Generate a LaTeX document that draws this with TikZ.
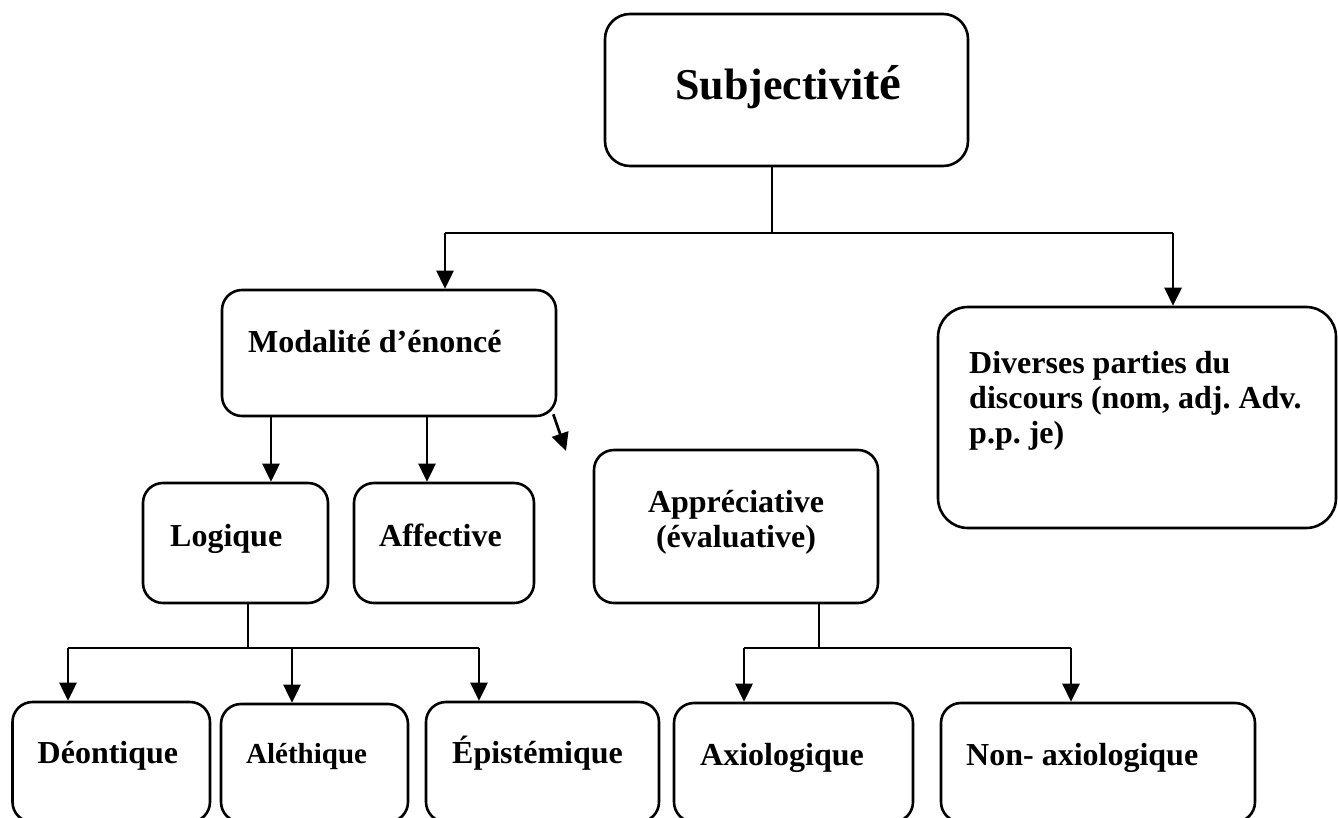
\documentclass[tikz,border=0pt]{standalone}
\usepackage{fontspec}
\setmainfont{Liberation Serif}
\usetikzlibrary{arrows.meta}
\frenchspacing
\begin{document}
\begin{tikzpicture}[x=1pt,y=-1pt,
  box/.style={draw, line width=2.6pt, rounded corners=20pt, inner sep=0pt},
  txt/.style={inner sep=0pt, font=\bfseries\fontsize{32}{35}\selectfont},
  conn/.style={line width=2.7pt},
  arr/.style={line width=2.7pt, -{Triangle[length=18pt,width=17pt]}},
  thin/.style={line width=2pt}]
\useasboundingbox (0,0) rectangle (1338,817);
\clip (0,0) rectangle (1338,817);
% boxes
\node[box, rounded corners=25pt, minimum width=363pt, minimum height=152pt] (sub) at (786.5,90) {};
\node[box, minimum width=334pt, minimum height=126pt] (mod) at (389,353) {};
\node[box, rounded corners=30pt, minimum width=398pt, minimum height=221pt] (div) at (1137,417.5) {};
\node[box, minimum width=185pt, minimum height=120pt] (log) at (235.5,543) {};
\node[box, minimum width=180pt, minimum height=120pt] (aff) at (444,543) {};
\node[box, minimum width=284pt, minimum height=153pt] (app) at (736,526.5) {};
\node[box, minimum width=197.5pt, minimum height=120pt] (deo) at (111.25,762) {};
\node[box, minimum width=187pt, minimum height=118pt] (ale) at (314.5,763) {};
\node[box, minimum width=233pt, minimum height=120pt] (epi) at (542.5,762) {};
\node[box, minimum width=239pt, minimum height=119pt] (axi) at (793.5,762.5) {};
\node[box, minimum width=314pt, minimum height=119pt] (nax) at (1098,762.5) {};
% texts
\node[inner sep=0pt, anchor=base west, font=\bfseries] (tsub) at (675,99) {\fontsize{44}{50}\selectfont Subjectivi\fontsize{49}{50}\selectfont té};
\node[txt, anchor=base west] (tmod) at (248,352) {Modalité d’énoncé};
\node[txt, anchor=base west, align=left] (tdiv) at (969,443) {Diverses parties du\\discours (nom, adj. Adv.\\p.p. je)};
\node[txt, anchor=base west] (tlog) at (170,546) {Logique};
\node[txt, anchor=base west] (taff) at (379,546) {Affective};
\node[txt, anchor=base, align=center] (tapp) at (736,547) {Appréciative\\(évaluative)};
\node[txt, anchor=base west] (tdeo) at (37.5,763) {Déontique};
\node[txt, anchor=base west, font=\bfseries\fontsize{29}{33}\selectfont] (tale) at (246,763) {Aléthique};
\node[txt, anchor=base west] (tepi) at (452,763) {Épistémique};
\node[txt, anchor=base west] (taxi) at (700,765) {Axiologique};
\node[txt, anchor=base west] (tnax) at (966,765) {Non- axiologique};
% junctions
\coordinate (j0) at (772,233);
\coordinate (jL) at (445,233);
\coordinate (jR) at (1173,233);
\coordinate (k0) at (248,648);
\coordinate (kL) at (68,648);
\coordinate (kM) at (292,648);
\coordinate (kR) at (479,648);
\coordinate (m0) at (819,648);
\coordinate (mL) at (744,648);
\coordinate (mR) at (1071,648);
\coordinate (a1) at (271,0);
\coordinate (a2) at (427,0);
\coordinate (dg) at (566,451);
% connectors
\draw[thin] (sub.south -| j0) -- (j0);
\draw[conn] (jL) -- (jR);
\draw[arr] (jL) -- (mod.north -| jL);
\draw[arr] (jR) -- (div.north -| jR);
\draw[arr] (mod.south -| a1) -- (log.north -| a1);
\draw[arr] (mod.south -| a2) -- (aff.north -| a2);
\draw[arr] (mod.south east) ++(-4,-3) -- (dg);
\draw[thin] (log.south -| k0) -- (k0);
\draw[conn] (kL) -- (kR);
\draw[arr] (kL) -- (deo.north -| kL);
\draw[arr] (kM) -- (ale.north -| kM);
\draw[arr] (kR) -- (epi.north -| kR);
\draw[thin] (app.south -| m0) -- (m0);
\draw[conn] (mL) -- (mR);
\draw[arr] (mL) -- (axi.north -| mL);
\draw[arr] (mR) -- (nax.north -| mR);
\end{tikzpicture}
\end{document}
